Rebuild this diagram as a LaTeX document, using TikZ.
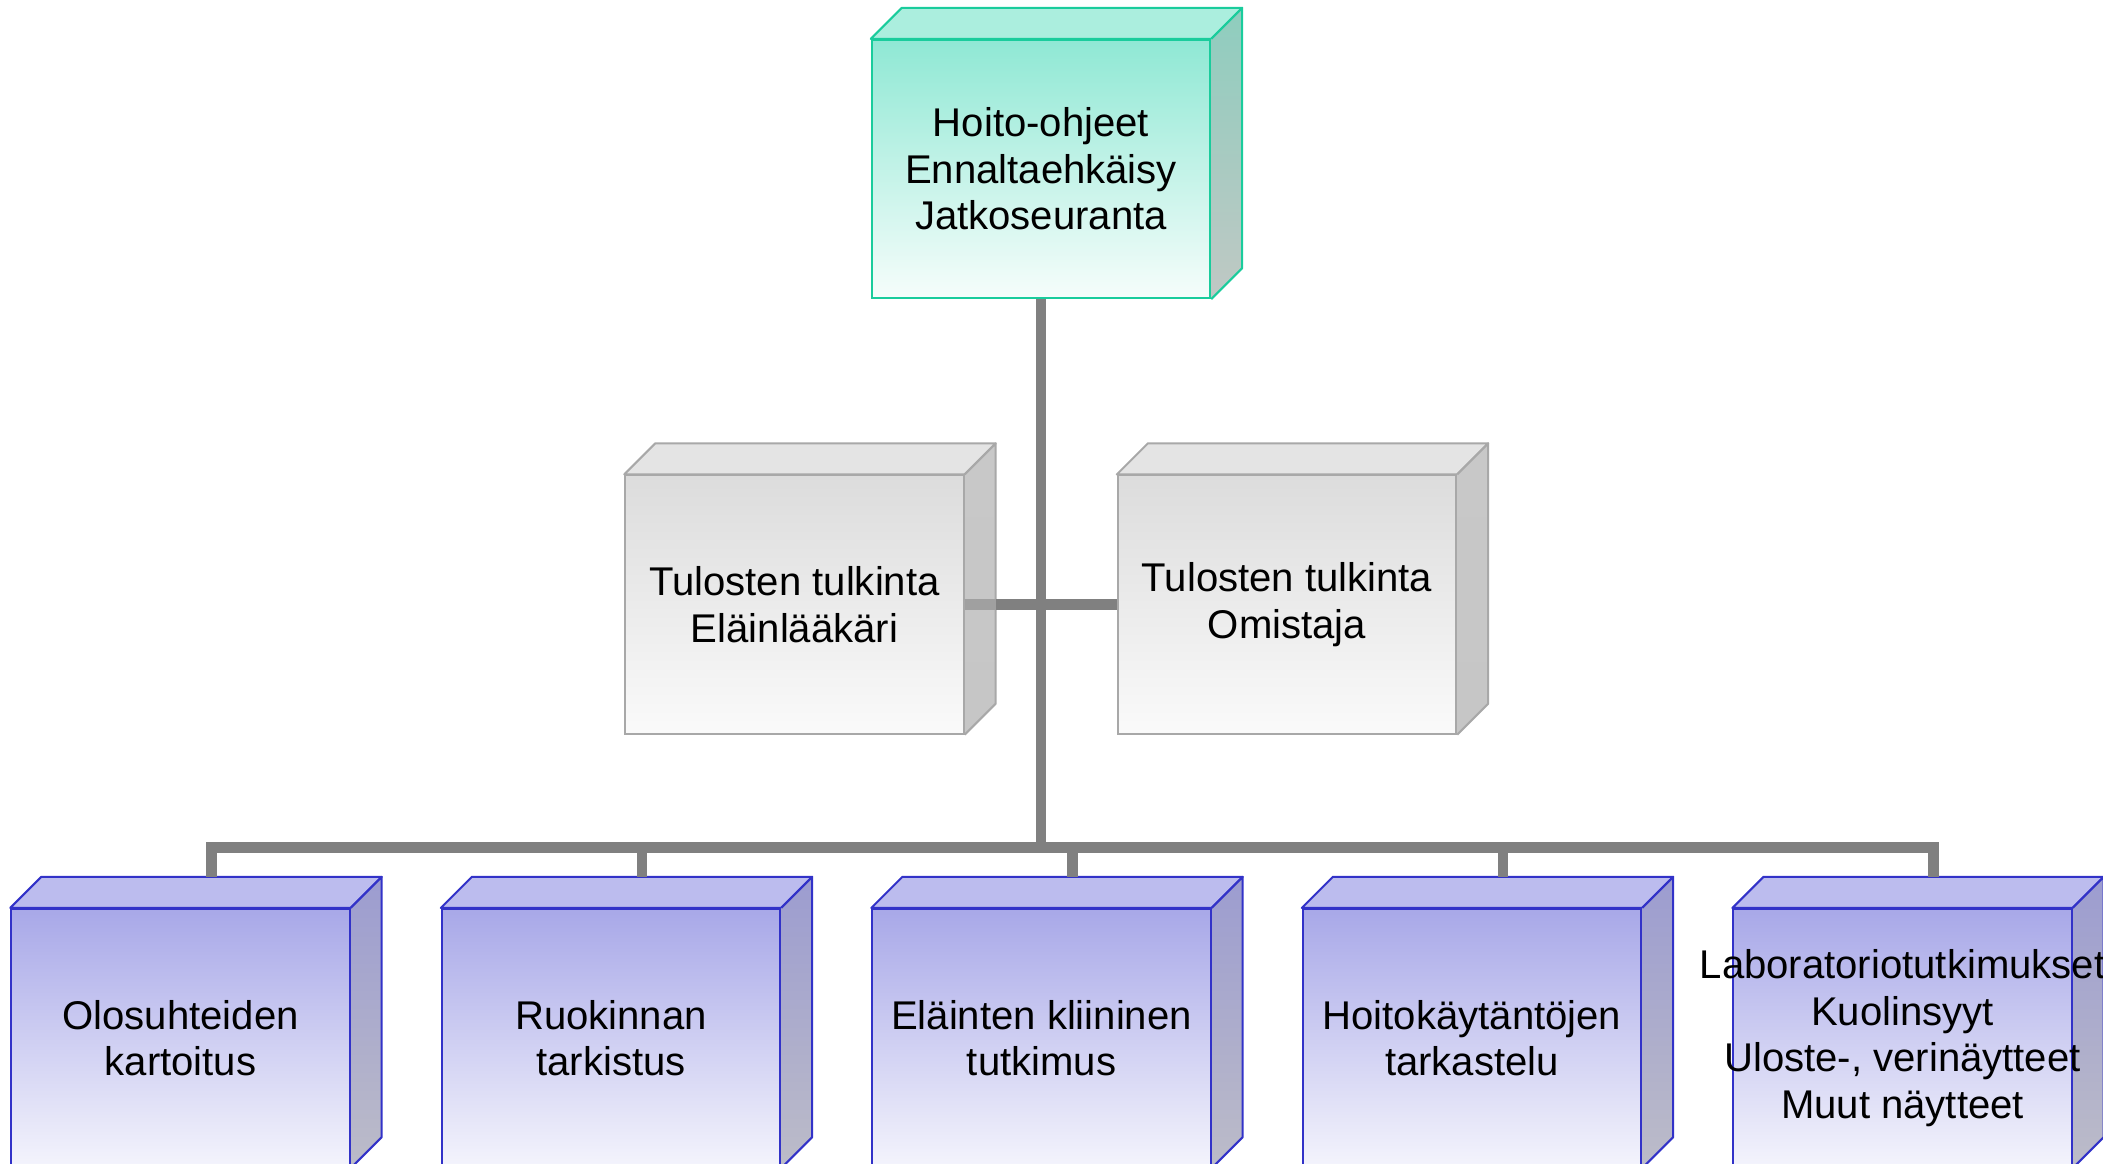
\documentclass[tikz,border=0pt]{standalone}
\usepackage{fontspec}
\setmainfont{Liberation Sans}
\usetikzlibrary{calc}
\pgfdeclarelayer{background}
\pgfsetlayers{background,main}
\definecolor{tealTop}{RGB}{171,238,222}
\definecolor{tealFrontT}{RGB}{143,232,212}
\definecolor{tealFrontB}{RGB}{246,253,251}
\definecolor{tealSideT}{RGB}{142,205,190}
\definecolor{tealSideB}{RGB}{192,200,196}
\definecolor{tealLine}{RGB}{26,204,156}
\definecolor{grayTop}{RGB}{228,228,228}
\definecolor{grayFrontT}{RGB}{220,220,220}
\definecolor{grayFrontB}{RGB}{250,250,250}
\definecolor{graySideT}{RGB}{200,200,200}
\definecolor{graySideB}{RGB}{198,198,198}
\definecolor{grayLine}{RGB}{168,168,168}
\definecolor{blueTop}{RGB}{188,188,238}
\definecolor{blueFrontT}{RGB}{168,168,232}
\definecolor{blueFrontB}{RGB}{244,244,252}
\definecolor{blueSideT}{RGB}{156,156,208}
\definecolor{blueSideB}{RGB}{188,188,200}
\definecolor{blueLine}{RGB}{50,50,200}
\definecolor{connGray}{RGB}{128,128,128}
\definecolor{connLight}{RGB}{160,160,160}
\newcommand\boxfaces[2]{%
  \begin{pgfonlayer}{background}
  \filldraw[fill=#2Top, draw=#2Line, line width=0.6pt, line join=round]
    (#1.north west) -- ([shift={(31,-31)}]#1.north west) -- ([shift={(31,-31)}]#1.north east) -- (#1.north east) -- cycle;
  \shade[top color=#2SideT, bottom color=#2SideB]
    (#1.north east) -- ([shift={(31,-31)}]#1.north east) -- ([shift={(31,-31)}]#1.south east) -- (#1.south east) -- cycle;
  \draw[draw=#2Line, line width=0.6pt, line join=round]
    (#1.north east) -- ([shift={(31,-31)}]#1.north east) -- ([shift={(31,-31)}]#1.south east) -- (#1.south east);
  \end{pgfonlayer}
}
\begin{document}
\begin{tikzpicture}[x=0.01cm,y=-0.01cm,
  front/.style={minimum width=3.38cm, minimum height=2.58cm, inner sep=0pt,
    align=center, font=\fontsize{11.4}{13.2}\selectfont, line width=0.6pt},
  tealbox/.style={front, draw=tealLine, top color=tealFrontT, middle color=tealFrontT!82!white, bottom color=tealFrontB},
  graybox/.style={front, draw=grayLine, top color=grayFrontT, middle color=grayFrontT!60!grayFrontB, bottom color=grayFrontB},
  bluebox/.style={front, draw=blueLine, top color=blueFrontT, middle color=blueFrontT!84!white, bottom color=blueFrontB},
  conn/.style={draw=connGray, line width=3.1pt, line join=miter}]
\useasboundingbox (0,0) rectangle (2103,1163);

\node[tealbox] (top) at (1041,169) {Hoito-ohjeet\\Ennaltaehkäisy\\Jatkoseuranta};
\boxfaces{top}{teal}

\node[graybox] (vet) at (794.5,604.5) {Tulosten tulkinta\\Eläinlääkäri};
\boxfaces{vet}{gray}
\node[graybox] (own) at (1287,604.5) {Tulosten tulkinta\\Omistaja};
\boxfaces{own}{gray}

\node[bluebox] (b1) at (180.5,1038) {Olosuhteiden\\kartoitus};
\boxfaces{b1}{blue}
\node[bluebox] (b2) at (611,1038) {Ruokinnan\\tarkistus};
\boxfaces{b2}{blue}
\node[bluebox] (b3) at (1041.5,1038) {Eläinten kliininen\\tutkimus};
\boxfaces{b3}{blue}
\node[bluebox] (b4) at (1472,1038) {Hoitokäytäntöjen\\tarkastelu};
\boxfaces{b4}{blue}
\node[bluebox] (b5) at (1902.5,1038) {\makebox[0pt]{Laboratoriotutkimukset}\\\makebox[0pt]{Kuolinsyyt}\\\makebox[0pt]{Uloste-, verinäytteet}\\\makebox[0pt]{Muut näytteet}};
\boxfaces{b5}{blue}

\coordinate (bus) at ($(top.south)+(0,548)$);
\draw[conn] (top.south) -- (bus);
\foreach \b in {b1,b2,b3,b4,b5}{
  \draw[conn] (bus) -| ([shift={(31,-31)}]\b.north);
}
\draw[conn] (vet.east) -- (own.west);
\draw[conn, draw=connLight] (vet.east) -- ([xshift=0.31cm]vet.east);
\end{tikzpicture}
\end{document}
